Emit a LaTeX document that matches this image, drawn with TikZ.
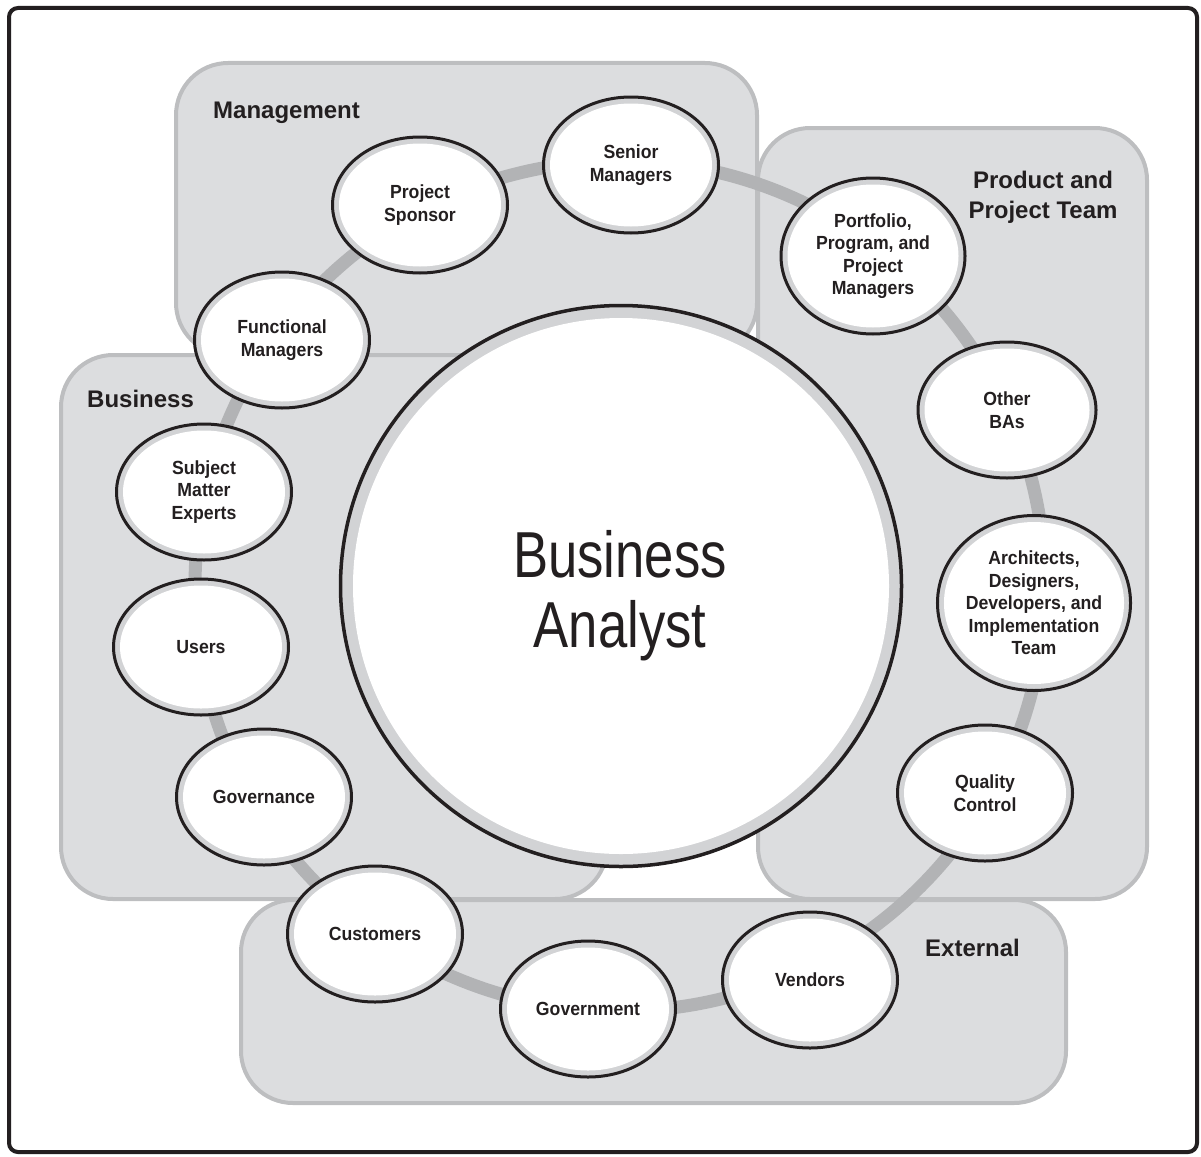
\documentclass[tikz,border=0pt]{standalone}
\usepackage{fontspec}
\setmainfont{Liberation Sans}
\newfontfamily\lblfont[FakeStretch=0.93]{Liberation Sans}
\newfontfamily\bafont[FakeStretch=0.81]{Liberation Sans}
\usetikzlibrary{shapes.geometric,calc}
\definecolor{boxfill}{HTML}{DCDDDF}
\definecolor{boxline}{HTML}{BDBEC0}
\definecolor{ringgray}{HTML}{B2B3B5}
\definecolor{bandgray}{HTML}{D2D3D5}
\definecolor{ink}{HTML}{231F20}
\tikzset{
  grp/.style={fill=boxfill, draw=boxline, line width=4pt, rounded corners=52pt},
  grplabel/.style={font=\bfseries\fontsize{24}{30}\selectfont, text=ink, inner sep=0pt},
  bubble/.style={ellipse, draw=ink, line width=3pt, fill=bandgray, inner sep=0pt,
    minimum width=175pt, minimum height=136pt, align=center, text=ink,
    font=\lblfont\bfseries\fontsize{19}{22.5}\selectfont,
    path picture={\fill[white] let \p1=(path picture bounding box.south west),
      \p2=(path picture bounding box.north east) in
      ($(\p1)!0.5!(\p2)$) ellipse [x radius={abs(\x2-\x1)/2-6.5pt}, y radius={abs(\y2-\y1)/2-6.5pt}];}},
  bigc/.style={circle, draw=ink, line width=3.5pt, fill=bandgray, inner sep=0pt, minimum size=561pt,
    path picture={\fill[white] (path picture bounding box.center) circle [radius=268pt];}},
  batext/.style={align=center, text=ink, inner sep=0pt, font=\bafont\fontsize{65}{70}\selectfont},
  ringline/.style={draw=ringgray, line width=13pt},
  frame/.style={draw=ink, line width=4pt, rounded corners=9pt}
}
\begin{document}
\begin{tikzpicture}[x=1pt, y=-1pt]
\useasboundingbox (0,0) rectangle (1201,1156);
\draw[frame] (9,8) rectangle (1197,1152);
% group boxes
\draw[grp] (176,63) rectangle (757,355);
\draw[grp] (758,128) rectangle (1147,899);
\draw[grp] (61,355) rectangle (607,899);
\draw[grp] (241,900) rectangle (1066,1103);
% ring
\coordinate (rc) at (620,586);
\draw[ringline] (rc) circle [radius=425pt];
% central circle
\node[bigc] (ba) at (621,586) {};
\node[batext] (bat) at (620,596) {Business\\Analyst};
% bubbles
\node[bubble] (sm) at (631,165) {Senior\\Managers};
\node[bubble] (ps) at (420,205) {Project\\Sponsor};
\node[bubble] (fm) at (282,340) {Functional\\Managers};
\node[bubble] (sme) at (204,492) {Subject\\Matter\\Experts};
\node[bubble] (us) at (201,647) {Users};
\node[bubble] (gov) at (264,797) {Governance};
\node[bubble] (cus) at (375,934) {Customers};
\node[bubble] (govt) at (588,1009) {Government};
\node[bubble] (ven) at (810,980) {Vendors};
\node[bubble] (qc) at (985,793) {Quality\\Control};
\node[bubble, minimum width=189pt, minimum height=175pt] (arch) at (1034,603) {Architects,\\Designers,\\Developers, and\\Implementation\\Team};
\node[bubble, minimum width=178pt] (oba) at (1007,410) {Other\\BAs};
\node[bubble, minimum width=184pt, minimum height=156pt] (port) at (873,256) {Portfolio,\\Program, and\\Project\\Managers};
% group labels
\node[grplabel, anchor=base west] (lm) at (213,118) {Management};
\node[grplabel, anchor=base west] (lb) at (87,407) {Business};
\node[grplabel, anchor=base west] (le) at (925,956) {External};
\node[grplabel, align=center] (lp) at (1043,197) {Product and\\Project Team};
\end{tikzpicture}
\end{document}
